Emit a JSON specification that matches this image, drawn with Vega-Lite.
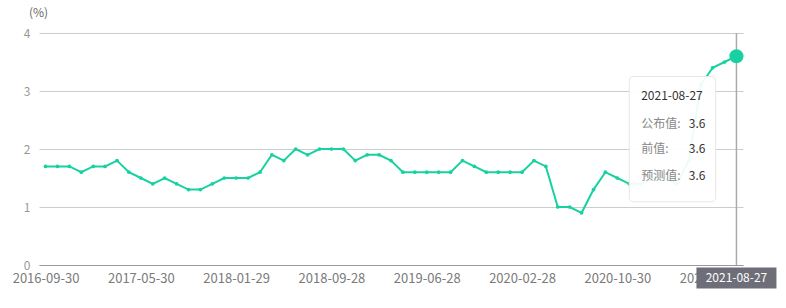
{
  "$schema": "https://vega.github.io/schema/vega-lite/v6.json",
  "width": 704,
  "height": 232,
  "autosize": "none",
  "padding": {"left": 39, "top": 33, "right": 43, "bottom": 43},
  "background": "white",
  "config": {
    "view": {"stroke": null},
    "font": "Noto Sans CJK SC",
    "axis": {"labelFont": "Noto Sans CJK SC", "titleFont": "Noto Sans CJK SC"}
  },
  "datasets": {
    "pce": [
      {"date": "2016-09-30", "value": 1.7},
      {"date": "2016-10-31", "value": 1.7},
      {"date": "2016-11-30", "value": 1.7},
      {"date": "2016-12-22", "value": 1.6},
      {"date": "2017-01-30", "value": 1.7},
      {"date": "2017-03-01", "value": 1.7},
      {"date": "2017-03-31", "value": 1.8},
      {"date": "2017-05-01", "value": 1.6},
      {"date": "2017-05-30", "value": 1.5},
      {"date": "2017-06-30", "value": 1.4},
      {"date": "2017-07-31", "value": 1.5},
      {"date": "2017-08-31", "value": 1.4},
      {"date": "2017-09-29", "value": 1.3},
      {"date": "2017-10-30", "value": 1.3},
      {"date": "2017-11-30", "value": 1.4},
      {"date": "2017-12-22", "value": 1.5},
      {"date": "2018-01-29", "value": 1.5},
      {"date": "2018-03-01", "value": 1.5},
      {"date": "2018-03-29", "value": 1.6},
      {"date": "2018-04-30", "value": 1.9},
      {"date": "2018-05-31", "value": 1.8},
      {"date": "2018-06-29", "value": 2.0},
      {"date": "2018-07-31", "value": 1.9},
      {"date": "2018-08-30", "value": 2.0},
      {"date": "2018-09-28", "value": 2.0},
      {"date": "2018-10-29", "value": 2.0},
      {"date": "2018-11-29", "value": 1.8},
      {"date": "2018-12-21", "value": 1.9},
      {"date": "2019-03-01", "value": 1.9},
      {"date": "2019-03-29", "value": 1.8},
      {"date": "2019-04-29", "value": 1.6},
      {"date": "2019-05-31", "value": 1.6},
      {"date": "2019-06-28", "value": 1.6},
      {"date": "2019-07-30", "value": 1.6},
      {"date": "2019-08-29", "value": 1.6},
      {"date": "2019-09-27", "value": 1.8},
      {"date": "2019-10-31", "value": 1.7},
      {"date": "2019-11-27", "value": 1.6},
      {"date": "2019-12-20", "value": 1.6},
      {"date": "2020-01-31", "value": 1.6},
      {"date": "2020-02-28", "value": 1.6},
      {"date": "2020-03-27", "value": 1.8},
      {"date": "2020-04-30", "value": 1.7},
      {"date": "2020-05-29", "value": 1.0},
      {"date": "2020-06-26", "value": 1.0},
      {"date": "2020-07-31", "value": 0.9},
      {"date": "2020-08-28", "value": 1.3},
      {"date": "2020-10-01", "value": 1.6},
      {"date": "2020-10-30", "value": 1.5},
      {"date": "2020-11-25", "value": 1.4},
      {"date": "2020-12-23", "value": 1.4},
      {"date": "2021-01-29", "value": 1.5},
      {"date": "2021-02-26", "value": 1.5},
      {"date": "2021-03-26", "value": 1.4},
      {"date": "2021-04-30", "value": 1.8},
      {"date": "2021-05-28", "value": 3.1},
      {"date": "2021-06-25", "value": 3.4},
      {"date": "2021-07-30", "value": 3.5},
      {"date": "2021-08-27", "value": 3.6}
    ]
  },
  "layer": [
    {
      "data": {"name": "pce"},
      "mark": {"type": "line", "color": "#17d2a0", "strokeWidth": 2, "point": {"filled": true, "size": 14, "color": "#17d2a0"}},
      "encoding": {
        "x": {
          "field": "date", "type": "ordinal",
          "scale": {"type": "point", "padding": 0.55},
          "axis": {
            "title": null,
            "values": ["2016-09-30", "2017-05-30", "2018-01-29", "2018-09-28", "2019-06-28", "2020-02-28", "2020-10-30", "2021-06-25"],
            "labelAngle": 0,
            "labelColor": "#7a7a7a",
            "labelFontSize": 13,
            "labelPadding": 7,
            "ticks": false,
            "grid": false,
            "domainColor": "#999999",
            "domainWidth": 1
          }
        },
        "y": {
          "field": "value", "type": "quantitative",
          "scale": {"domain": [0, 4], "nice": false},
          "axis": {
            "values": [0, 1, 2, 3, 4],
            "format": "d",
            "title": "(%)",
            "titleAngle": 0,
            "titleX": -1,
            "titleY": -21,
            "titleAlign": "center",
            "titleBaseline": "middle",
            "titleFontWeight": "normal",
            "titleFontSize": 12,
            "titleColor": "#666666",
            "labelColor": "#999999",
            "labelFontSize": 12,
            "labelPadding": 9,
            "ticks": false,
            "domain": false,
            "grid": true,
            "gridColor": "#cccccc",
            "gridWidth": 1
          }
        }
      }
    },
    {
      "data": {"values": [{"date": "2021-08-27", "lo": 0, "hi": 4}]},
      "mark": {"type": "rule", "color": "#aaaaaa", "strokeWidth": 1.5},
      "encoding": {
        "x": {"field": "date", "type": "ordinal"},
        "y": {"field": "lo", "type": "quantitative"},
        "y2": {"field": "hi"}
      }
    },
    {
      "data": {"values": [{"date": "2021-08-27", "value": 3.6}]},
      "mark": {"type": "circle", "size": 200, "color": "#17d2a0", "opacity": 1},
      "encoding": {
        "x": {"field": "date", "type": "ordinal"},
        "y": {"field": "value", "type": "quantitative"}
      }
    },
    {
      "data": {"values": [{"d1": "2020-11-25", "d2": "2021-06-25", "top": 3.25, "bottom": 1.09}]},
      "mark": {"type": "rect", "fill": "white", "fillOpacity": 0.93, "stroke": "#e6e6e6", "strokeWidth": 1, "cornerRadius": 4, "x2Offset": 3},
      "encoding": {
        "x": {"field": "d1", "type": "ordinal"},
        "x2": {"field": "d2"},
        "y": {"field": "top", "type": "quantitative"},
        "y2": {"field": "bottom"}
      }
    },
    {
      "data": {"values": [{"date": "2020-12-23", "value": 2.91, "label": "2021-08-27"}]},
      "mark": {"type": "text", "align": "left", "baseline": "middle", "fontSize": 12, "color": "#333333"},
      "encoding": {
        "x": {"field": "date", "type": "ordinal"},
        "y": {"field": "value", "type": "quantitative"},
        "text": {"field": "label"}
      }
    },
    {
      "data": {"values": [
        {"date": "2020-12-23", "value": 2.43, "label": "公布值:"},
        {"date": "2020-12-23", "value": 2.0, "label": "前值:"},
        {"date": "2020-12-23", "value": 1.53, "label": "预测值:"}
      ]},
      "mark": {"type": "text", "align": "left", "baseline": "middle", "fontSize": 12, "color": "#888888"},
      "encoding": {
        "x": {"field": "date", "type": "ordinal"},
        "y": {"field": "value", "type": "quantitative"},
        "text": {"field": "label"}
      }
    },
    {
      "data": {"values": [
        {"date": "2021-04-30", "value": 2.43, "label": "3.6"},
        {"date": "2021-04-30", "value": 2.0, "label": "3.6"},
        {"date": "2021-04-30", "value": 1.53, "label": "3.6"}
      ]},
      "mark": {"type": "text", "align": "left", "baseline": "middle", "fontSize": 12, "color": "#333333"},
      "encoding": {
        "x": {"field": "date", "type": "ordinal"},
        "y": {"field": "value", "type": "quantitative"},
        "text": {"field": "label"}
      }
    },
    {
      "data": {"values": [{"date": "2021-08-27", "value": 0}]},
      "mark": {"type": "rect", "fill": "#6e6e78", "width": 80, "height": 21, "yOffset": 13},
      "encoding": {
        "x": {"field": "date", "type": "ordinal"},
        "y": {"field": "value", "type": "quantitative"}
      }
    },
    {
      "data": {"values": [{"date": "2021-08-27", "value": 0, "label": "2021-08-27"}]},
      "mark": {"type": "text", "align": "center", "baseline": "middle", "fontSize": 12, "color": "white", "dy": 13},
      "encoding": {
        "x": {"field": "date", "type": "ordinal"},
        "y": {"field": "value", "type": "quantitative"},
        "text": {"field": "label"}
      }
    }
  ]
}
